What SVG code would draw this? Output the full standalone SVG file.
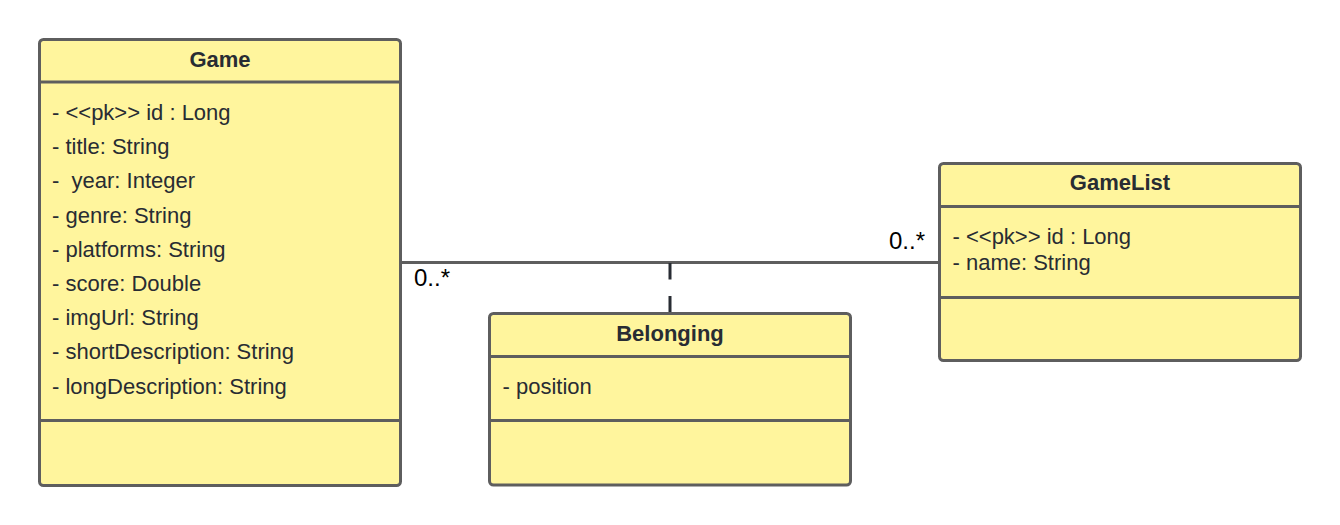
<svg xmlns="http://www.w3.org/2000/svg" width="1340" height="525" viewBox="0 0 1340 525">
<style>
.box{fill:#fff59d;stroke:#5e5e5e;stroke-width:3}
.sep{stroke:#5e5e5e;stroke-width:3}
.t{font-family:"Liberation Sans",Arial,sans-serif;font-size:22px;fill:#282c33}
.h{font-family:"Liberation Sans",Arial,sans-serif;font-size:22px;font-weight:bold;fill:#282c33;text-anchor:middle}
.m{font-family:"Liberation Sans",Arial,sans-serif;font-size:24px;fill:#000}
</style>
<rect width="1340" height="525" fill="#fff"/>
<g id="connectors">
<line x1="401" y1="262.5" x2="939" y2="262.5" stroke="#5e5e5e" stroke-width="3"/>
<line x1="670" y1="263" x2="670" y2="313" stroke="#282c33" stroke-width="3" stroke-dasharray="16.5,16.5"/>
<text class="m" x="414" y="286">0..*</text>
<text class="m" x="889" y="249">0..*</text>
</g>
<g id="game">
<rect class="box" x="39.5" y="39.5" width="361" height="446" rx="4"/>
<line class="sep" x1="39.5" y1="82" x2="400.5" y2="82"/>
<line class="sep" x1="39.5" y1="420.5" x2="400.5" y2="420.5"/>
<text class="h" x="220" y="66.5">Game</text>
<text class="t" x="52" y="120">- &lt;&lt;pk&gt;&gt; id : Long</text>
<text class="t" x="52" y="154.2">- title: String</text>
<text class="t" x="52" y="188.4" xml:space="preserve">-  year: Integer</text>
<text class="t" x="52" y="222.6">- genre: String</text>
<text class="t" x="52" y="256.8">- platforms: String</text>
<text class="t" x="52" y="291">- score: Double</text>
<text class="t" x="52" y="325.2">- imgUrl: String</text>
<text class="t" x="52" y="359.4">- shortDescription: String</text>
<text class="t" x="52" y="393.6">- longDescription: String</text>
</g>
<g id="gamelist">
<rect class="box" x="939.5" y="163.5" width="361" height="197" rx="4"/>
<line class="sep" x1="939.5" y1="206.5" x2="1300.5" y2="206.5"/>
<line class="sep" x1="939.5" y1="297.5" x2="1300.5" y2="297.5"/>
<text class="h" x="1120" y="189.5">GameList</text>
<text class="t" x="952.5" y="244">- &lt;&lt;pk&gt;&gt; id : Long</text>
<text class="t" x="952.5" y="270">- name: String</text>
</g>
<g id="belonging">
<rect class="box" x="489.5" y="313.5" width="361" height="171.5" rx="4"/>
<line class="sep" x1="489.5" y1="356.5" x2="850.5" y2="356.5"/>
<line class="sep" x1="489.5" y1="420.5" x2="850.5" y2="420.5"/>
<text class="h" x="670" y="340.5">Belonging</text>
<text class="t" x="502.5" y="394">- position</text>
</g>
</svg>
